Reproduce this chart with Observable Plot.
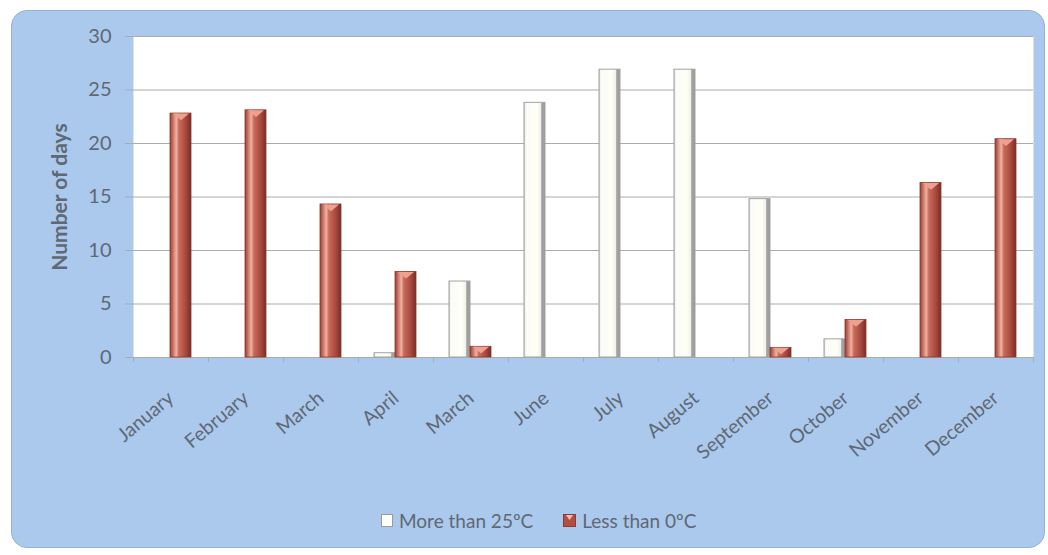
<!DOCTYPE html>
<html>
<head>
<meta charset="utf-8">
<script src="https://cdn.jsdelivr.net/npm/d3@7"></script>
<script src="https://cdn.jsdelivr.net/npm/@observablehq/plot@0.6"></script>
<style>
  body { margin: 0; background: #ffffff; }
  #wrap { position: relative; width: 1048px; height: 555px; overflow: hidden; font-family: Lato, "Open Sans", sans-serif; }
  #panel { position: absolute; left: 11px; top: 10px; width: 1032px; height: 536px;
           background: #abc8ed; border: 1px solid #93b2db; border-radius: 16px; }
  #chart { position: absolute; left: 0; top: 0; }
  #legend { position: absolute; left: 381px; top: 509px; display: flex; align-items: center;
            font-size: 19px; color: #5f6873; white-space: nowrap; }
  #legend .item { display: flex; align-items: center; margin-right: 30px; }
  #legend svg { margin-right: 6px; }
</style>
</head>
<body>
<div id="wrap">
  <div id="panel"></div>
  <div id="chart"></div>
  <div id="legend"></div>
</div>
<script>
// Monthly count of hot days (> 25ºC) and frost days (< 0ºC)
const months = ["January", "February", "March", "April", "March", "June",
                "July", "August", "September", "October", "November", "December"];
const moreThan25 = [0, 0, 0, 0.4, 7.1, 23.8, 26.9, 26.9, 14.8, 1.7, 0, 0];
const lessThan0 = [22.8, 23.1, 14.3, 8.0, 1.0, 0, 0, 0, 0.9, 3.5, 16.3, 20.4];
const seriesNames = ["More than 25ºC", "Less than 0ºC"];
const yTicks = [0, 5, 10, 15, 20, 25, 30];
const yTitle = "Number of days";

const textColor = "#5f6873";
const gridColor = "#ababab";

// months are keyed by position because the label "March" appears twice
const keys = months.map((_, i) => i);
const hot = moreThan25.map((v, i) => ({month: i, value: v})).filter(d => d.value > 0);
const cold = lessThan0.map((v, i) => ({month: i, value: v})).filter(d => d.value > 0);

const W = 1048, H = 480, mL = 133, mR = 15, mT = 36, mB = 123;
const step = (W - mL - mR) / months.length;

// flat, downward-pointing cap drawn on top of each frost bar
const capSymbol = {
  draw(context, size) {
    const w = Math.sqrt(size / Math.PI) * 2;
    const h = w * 0.42;
    context.moveTo(-w / 2, 0);
    context.lineTo(w / 2, 0);
    context.lineTo(0, h);
    context.closePath();
  }
};

const chart = Plot.plot({
  width: W,
  height: H,
  marginLeft: mL,
  marginRight: mR,
  marginTop: mT,
  marginBottom: mB,
  style: {background: "transparent", fontFamily: "Lato, 'Open Sans', sans-serif", fontSize: "19px", color: textColor},
  x: {type: "band", domain: keys, paddingInner: 0.72, paddingOuter: 0.36},
  y: {domain: [0, 30]},
  marks: [
    Plot.frame({fill: "white", stroke: null}),
    Plot.gridY(yTicks, {stroke: gridColor, strokeOpacity: 1}),
    Plot.axisY(yTicks, {tickSize: 8, tickPadding: 14, stroke: gridColor, fill: textColor, fontSize: 20, label: null}),
    Plot.axisX(keys, {tickSize: 0, tickPadding: 38, tickRotate: -40, tickFormat: i => months[i],
                      fill: textColor, fontSize: 19.5, label: null}),
    Plot.axisX(keys, {tickSize: 5, tickFormat: () => "", dx: -step / 2, stroke: gridColor, label: null}),
    Plot.axisX([keys[keys.length - 1]], {tickSize: 5, tickFormat: () => "", dx: step / 2, stroke: gridColor, label: null}),
    Plot.text([yTitle], {frameAnchor: "left", textAnchor: "middle", dx: -73, rotate: -90,
                         fontWeight: "bold", fill: textColor, fontSize: 21}),
    Plot.barY(hot, {x: "month", y: "value", dx: -11, fill: "url(#hotGrad)", stroke: "#a2a2a2", strokeWidth: 1}),
    Plot.barY(cold, {x: "month", y: "value", dx: 10, fill: "url(#coldGrad)", stroke: "#8a3a30", strokeWidth: 0.8}),
    Plot.dot(cold, {x: "month", y: "value", dx: 10, symbol: capSymbol, r: 8, fill: "#eea190", stroke: null})
  ]
});

// shading that gives the bars their rounded, lit look
const defs = document.createElementNS("http://www.w3.org/2000/svg", "defs");
defs.innerHTML = `
  <linearGradient id="coldGrad" x1="0" x2="1" y1="0" y2="0">
    <stop offset="0" stop-color="#8f3f34"/>
    <stop offset="0.12" stop-color="#c56a5a"/>
    <stop offset="0.3" stop-color="#f0b2a3"/>
    <stop offset="0.42" stop-color="#c96b5b"/>
    <stop offset="0.75" stop-color="#a8493d"/>
    <stop offset="1" stop-color="#762e26"/>
  </linearGradient>
  <linearGradient id="hotGrad" x1="0" x2="1" y1="0" y2="0">
    <stop offset="0" stop-color="#c4c4c4"/>
    <stop offset="0.08" stop-color="#fbfbf8"/>
    <stop offset="0.6" stop-color="#fffff6"/>
    <stop offset="0.8" stop-color="#f1f1ea"/>
    <stop offset="0.84" stop-color="#a4a4a4"/>
    <stop offset="1" stop-color="#9a9a9a"/>
  </linearGradient>`;
chart.insertBefore(defs, chart.firstChild);
document.getElementById("chart").appendChild(chart);

// legend below the plot
const swatches = [
  `<svg width="12" height="13"><rect x="0.5" y="0.5" width="11" height="12" fill="#fdfdfa" stroke="#9a9a9a"/></svg>`,
  `<svg width="13" height="13"><rect x="0.5" y="0.5" width="12" height="12" fill="#b24f43" stroke="#8a3a30"/><path d="M3,1 L10,1 L6.5,6 Z" fill="#f3c2b6"/></svg>`
];
document.getElementById("legend").innerHTML = seriesNames
  .map((name, i) => `<span class="item">${swatches[i]}<span>${name}</span></span>`)
  .join("");
</script>
</body>
</html>
